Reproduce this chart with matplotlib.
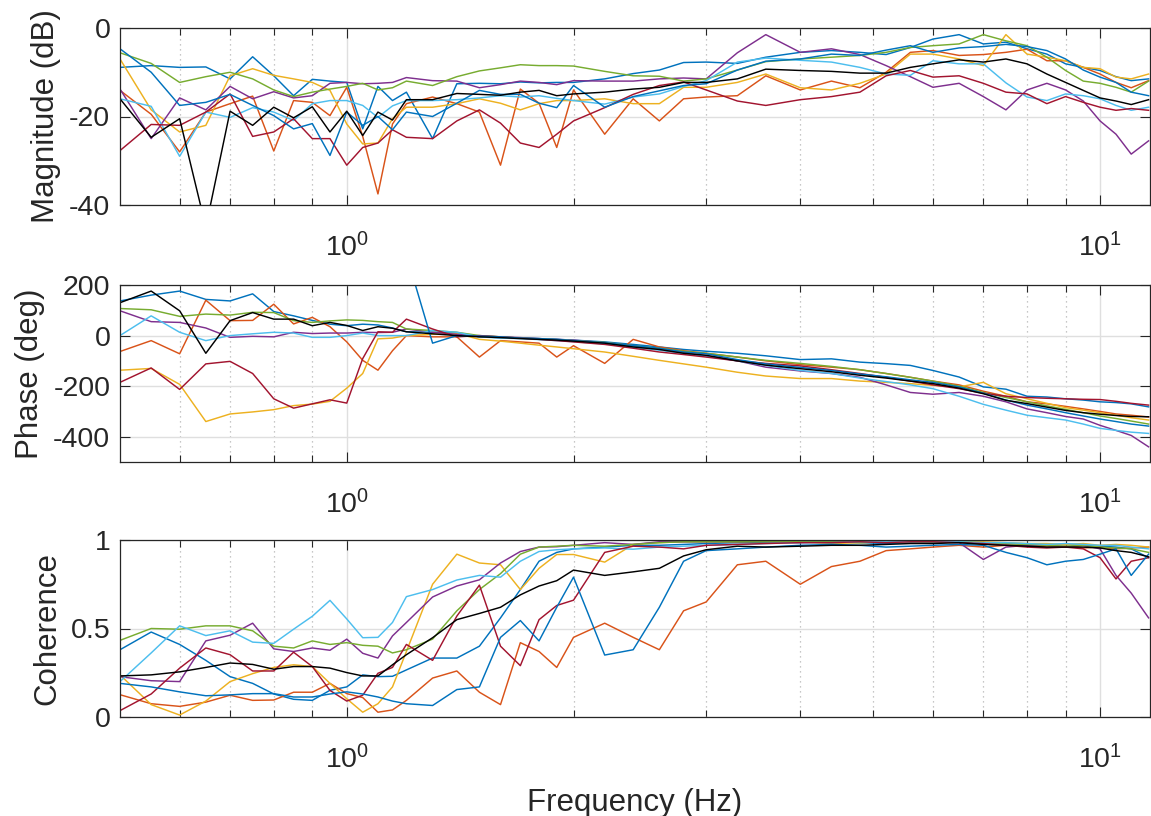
import matplotlib
matplotlib.use('Agg')
import matplotlib.pyplot as plt

plt.rcParams['font.family'] = ['Liberation Sans', 'DejaVu Sans']

# Frequency points (Hz) shared by every trace
freq = [0.5, 0.55, 0.6, 0.65, 0.7, 0.75, 0.8, 0.85, 0.9, 0.95, 1.0, 1.05, 1.1, 1.15, 1.2,
        1.3, 1.4, 1.5, 1.6, 1.7, 1.8, 1.9, 2.0, 2.2, 2.4, 2.6, 2.8, 3.0, 3.3, 3.6, 4.0,
        4.4, 4.8, 5.2, 5.6, 6.0, 6.5, 7.0, 7.5, 8.0, 8.5, 9.0, 9.5, 10.0, 10.5, 11.0, 11.6]

# Magnitude (dB)
mag_blue1 = [-8.9, -8.5, -8.9, -8.8, -11.5, -6.5, -10.8, -15.3, -11.6, -12, -12.3, -22.8, -13.2, -16.4, -14.5, -25, -12.6,
             -12.5, -12.6, -12.2, -12.4, -12.3, -12.3, -11.5, -10.3, -9.5, -7.8, -7.7, -8, -6.6,
             -5.5, -5.1, -5.5, -6, -4.4, -2.5, -1.5, -3.6, -3.2, -4.7, -5.9, -8.1, -8.9, -9.6, -11, -11.9, -11.5]
mag_orange = [-14.1, -19.5, -28, -19, -17.1, -15.4, -27.8, -16.4, -16.8, -19.8, -13.4, -24.5, -37.5, -21.7, -17.1, -15.6, -17.1,
              -19, -31, -13.8, -17, -27, -14, -24, -16, -21, -16, -15.6, -15.3, -10.8,
              -14, -12, -13.5, -10, -5.5, -5.1, -6.2, -6, -5.5, -4.8, -7.4, -7.4, -8.9, -10.4, -12.3, -13.5, -11.9]
mag_yellow = [-7, -18.5, -23.5, -22, -10.8, -9.2, -10.7, -11.5, -12.3, -14.1, -21.7, -26.2, -26, -20.5, -17.9, -17.9, -17.1,
              -16, -17, -18.5, -17.1, -16.4, -16.4, -16, -17.1, -17.1, -13.4, -13.4, -12.3, -10.4,
              -13.5, -14, -12.5, -10.4, -5.9, -5.9, -7, -8.5, -1.5, -5.9, -6.6, -7.4, -8.9, -9.2, -11.1, -11.5, -10.4]
mag_purple = [-13.8, -25, -15.8, -18.5, -13.2, -16, -14.4, -15.8, -15.3, -12.5, -12.3, -12.6, -12.5, -12.3, -11.2, -11.9, -12,
              -13.5, -12.8, -12, -12.3, -12.8, -11.9, -12, -12, -11.5, -11.3, -11.5, -5.6, -1.5,
              -5.5, -4.7, -6, -8.5, -11, -13.4, -12.5, -15.5, -18.5, -14, -12.5, -14, -16.5, -21, -24, -28.5, -25.5]
mag_green = [-5.6, -8, -12.3, -11, -10, -11.5, -14, -15.5, -14.5, -13.8, -13.2, -12.5, -14, -13.5, -12, -13, -11,
             -9.7, -9, -8.3, -8.5, -8.5, -8.6, -9.8, -10.8, -10.9, -12, -11.5, -9.5, -7.6,
             -7, -6.6, -6.2, -5.5, -4.4, -4, -3.6, -1.5, -2.9, -4, -6.6, -9.6, -12, -12.5, -13.4, -14.5, -12]
mag_lightblue = [-16, -17.7, -29, -19, -20.2, -18, -19, -20.9, -17.1, -16.4, -16.4, -17.5, -20.2, -17.6, -16.4, -16.4, -16.2,
                 -15.8, -15.3, -15.6, -15.3, -15.9, -16.4, -17.2, -15.6, -14.9, -13.2, -11.9, -7.7, -6.8,
                 -7.3, -7.7, -8.9, -10.4, -10.7, -7.4, -8.1, -8.1, -12.4, -15.6, -16.4, -14.9, -15.3, -16, -17.5, -18.6, -17.9]
mag_darkred = [-27.7, -21.8, -22, -19, -14.9, -24.5, -23.5, -20.5, -25, -25, -31, -27, -26, -23, -24.7, -25, -21,
               -18.5, -21.5, -26, -27, -24, -21, -18, -15, -13, -12.2, -14, -16.5, -17.5,
               -16.2, -15.5, -14.5, -10.8, -9.6, -11.1, -10.8, -12.5, -14.5, -14.9, -17.1, -15.5, -16.8, -17.9, -18.6, -18.2, -18.6]
mag_blue2 = [-4.7, -10, -17.5, -16.8, -15, -17.5, -19.8, -22.8, -21.6, -28.8, -19, -22, -20, -23, -19, -20, -17,
             -14.1, -15, -15, -17, -18, -13, -17.9, -15.5, -14.2, -13, -12.6, -9.5, -7.5,
             -7, -5.9, -6.2, -5, -4, -5.5, -4.5, -4.2, -3.7, -4.2, -5.1, -7, -9.5, -11.1, -12.3, -14.5, -15.3]
mag_mean = [-16, -24.7, -20.5, -45, -18.8, -22, -17.9, -20.3, -17.8, -23.5, -18.8, -24.3, -19, -20.8, -16.2, -16.2, -14.8,
            -15, -15.2, -14.5, -14.1, -15.3, -14.9, -14.5, -13.8, -13.4, -12.3, -12.3, -11.5, -9.3,
            -9.6, -9.8, -10.2, -10.2, -8.9, -8.1, -7.2, -7.7, -7.0, -8.1, -10.4, -12.3, -14.1, -15.8, -16.5, -17.3, -16.2]

# Phase (deg)
ph_blue1 = [137, 160, 176, 143, 137, 165, 95, 78, 60, 45, 39, 45, 42, 30, 15, 13, 10,
            -5, -8, -10, -12, -15, -18, -25, -35, -45, -55, -62, -70, -80, -95, -92, -105, -111, -118,
            -138, -164, -203, -212, -240, -243, -250, -255, -262, -265, -270, -282]
ph_orange = [-63, -20, -72, 140, 59, 60, 124, 46, 72, 35, -25, -98, -137, -60, 0, -5, -5,
             -85, -20, -25, -30, -85, -40, -110, -15, -45, -60, -70, -85, -100, -115, -125, -135, -150, -165,
             -180, -195, -220, -240, -262, -270, -280, -290, -300, -310, -315, -322]
ph_yellow = [-137, -130, -193, -340, -310, -302, -293, -277, -271, -260, -208, -150, -13, -10, 0, 5, 8,
             -15, -22, -30, -38, -45, -52, -65, -82, -98, -112, -125, -145, -160, -170, -170, -180, -185, -190,
             -197, -203, -185, -230, -250, -268, -285, -295, -305, -315, -325, -334]
ph_purple = [98, 55, 52, 30, -7, -3, -5, 13, 8, 10, 10, 13, 12, 13, 26, 13, 5,
             -3, -5, -8, -12, -15, -18, -28, -40, -55, -68, -80, -100, -125, -140, -150, -165, -195, -225,
             -232, -225, -240, -262, -290, -305, -320, -330, -355, -375, -395, -440]
ph_green = [107, 102, 76, 85, 81, 92, 91, 59, 52, 58, 62, 60, 55, 52, 26, 20, 13,
            0, -5, -10, -13, -16, -20, -27, -40, -50, -62, -70, -85, -98, -110, -122, -135, -150, -165,
            -180, -200, -225, -245, -262, -278, -292, -305, -318, -328, -338, -350]
ph_lightblue = [0, 78, 13, -20, 0, 7, 13, 10, -7, -7, 0, 10, 0, 0, 0, 20, 13,
                -5, -10, -12, -16, -20, -24, -33, -45, -58, -70, -82, -100, -118, -138, -150, -168, -182, -195,
                -210, -240, -272, -295, -315, -325, -334, -350, -367, -375, -382, -387]
ph_darkred = [-185, -128, -213, -112, -102, -150, -250, -287, -270, -254, -267, -91, 15, 13, 65, 26, -5,
              0, -5, -10, -15, -20, -25, -35, -50, -65, -75, -85, -100, -110, -120, -135, -150, -165, -180,
              -195, -210, -228, -240, -245, -248, -250, -252, -253, -260, -268, -275]
ph_blue2 = [400, 400, 400, 400, 400, 400, 400, 400, 400, 400, 400, 400, 400, 400, 320, -30, 0,
            -2, -5, -10, -12, -15, -20, -28, -40, -50, -65, -72, -95, -112, -126, -138, -152, -163, -175,
            -185, -203, -228, -255, -275, -290, -305, -318, -330, -340, -350, -358]
ph_mean = [130, 176, 98, -70, 59, 91, 65, 65, 39, 52, 40, 20, 35, 29, 15, 7, 0,
           -5, -8, -12, -15, -18, -22, -30, -45, -55, -70, -78, -100, -117, -131, -143, -157, -168, -180,
           -190, -208, -230, -256, -269, -283, -296, -305, -311, -316, -320, -321]

# Coherence
coh_blue1 = [0.38, 0.48, 0.41, 0.32, 0.228, 0.19, 0.13, 0.10, 0.094, 0.151, 0.17, 0.238, 0.228, 0.23, 0.266, 0.333, 0.333,
             0.40, 0.56, 0.72, 0.88, 0.93, 0.95,
             0.96, 0.97, 0.97, 0.975, 0.98, 0.985, 0.985, 0.99, 0.99, 0.985, 0.98, 0.985, 0.99, 0.99, 0.985, 0.98,
             0.975, 0.97, 0.975, 0.97, 0.965, 0.96, 0.95, 0.9]
coh_orange = [0.126, 0.075, 0.06, 0.084, 0.123, 0.094, 0.096, 0.14, 0.14, 0.19, 0.132, 0.11, 0.027, 0.04, 0.094, 0.22, 0.26,
              0.14, 0.07, 0.42, 0.37, 0.28, 0.45,
              0.53, 0.45, 0.38, 0.6, 0.65, 0.86, 0.88, 0.75, 0.85, 0.88, 0.94, 0.95, 0.96, 0.97, 0.96, 0.97,
              0.97, 0.96, 0.965, 0.955, 0.96, 0.95, 0.955, 0.96]
coh_yellow = [0.238, 0.07, 0.011, 0.09, 0.20, 0.245, 0.28, 0.295, 0.285, 0.19, 0.103, 0.027, 0.075, 0.17, 0.37, 0.75, 0.92,
              0.87, 0.86, 0.72, 0.84, 0.918, 0.918,
              0.875, 0.975, 0.985, 0.99, 0.99, 0.99, 0.995, 0.99, 0.98, 0.985, 0.99, 0.99, 0.985, 0.99, 0.99, 0.985,
              0.98, 0.98, 0.975, 0.98, 0.97, 0.975, 0.97, 0.96]
coh_purple = [0.228, 0.205, 0.20, 0.43, 0.462, 0.53, 0.385, 0.37, 0.39, 0.377, 0.44, 0.36, 0.333, 0.458, 0.534, 0.678, 0.74,
              0.775, 0.87, 0.935, 0.96, 0.962, 0.97,
              0.985, 0.975, 0.99, 0.99, 0.99, 0.99, 0.99, 0.985, 0.99, 0.99, 0.985, 0.99, 0.99, 0.985, 0.89, 0.96,
              0.97, 0.97, 0.96, 0.97, 0.95, 0.8, 0.7, 0.56]
coh_green = [0.433, 0.50, 0.496, 0.515, 0.515, 0.487, 0.40, 0.39, 0.43, 0.41, 0.42, 0.405, 0.40, 0.362, 0.38, 0.44, 0.60,
             0.72, 0.81, 0.92, 0.96, 0.965, 0.97,
             0.965, 0.975, 0.985, 0.99, 0.99, 0.99, 0.99, 0.99, 0.99, 0.985, 0.99, 0.99, 0.985, 0.99, 0.985, 0.98,
             0.975, 0.97, 0.965, 0.97, 0.96, 0.955, 0.95, 0.93]
coh_lightblue = [0.20, 0.362, 0.515, 0.46, 0.487, 0.423, 0.416, 0.496, 0.569, 0.659, 0.554, 0.448, 0.45, 0.534, 0.68, 0.72, 0.774,
                 0.80, 0.79, 0.88, 0.935, 0.945, 0.95,
                 0.955, 0.948, 0.96, 0.965, 0.97, 0.975, 0.98, 0.985, 0.985, 0.99, 0.99, 0.99, 0.99, 0.99, 0.985, 0.985,
                 0.98, 0.975, 0.98, 0.975, 0.97, 0.97, 0.96, 0.95]
coh_darkred = [0.036, 0.13, 0.276, 0.39, 0.352, 0.26, 0.26, 0.366, 0.285, 0.15, 0.09, 0.123, 0.247, 0.28, 0.41, 0.32, 0.57,
               0.745, 0.40, 0.29, 0.55, 0.63, 0.66,
               0.93, 0.965, 0.96, 0.95, 0.97, 0.975, 0.98, 0.985, 0.985, 0.99, 0.985, 0.99, 0.99, 0.985, 0.98, 0.97,
               0.96, 0.955, 0.96, 0.95, 0.9, 0.78, 0.88, 0.9]
coh_blue2 = [0.19, 0.17, 0.142, 0.12, 0.125, 0.132, 0.132, 0.113, 0.113, 0.13, 0.142, 0.13, 0.113, 0.09, 0.075, 0.065, 0.155,
             0.17, 0.45, 0.545, 0.43, 0.62, 0.79,
             0.35, 0.38, 0.62, 0.88, 0.94, 0.95, 0.96, 0.97, 0.975, 0.97, 0.96, 0.965, 0.97, 0.975, 0.97, 0.93,
             0.9, 0.86, 0.88, 0.89, 0.92, 0.95, 0.8, 0.92]
coh_mean = [0.232, 0.238, 0.255, 0.28, 0.305, 0.297, 0.27, 0.285, 0.285, 0.276, 0.251, 0.232, 0.232, 0.295, 0.352, 0.448, 0.55,
            0.585, 0.62, 0.69, 0.74, 0.77, 0.83,
            0.80, 0.82, 0.84, 0.91, 0.945, 0.965, 0.96, 0.965, 0.97, 0.97, 0.975, 0.98, 0.98, 0.985, 0.975, 0.97,
            0.965, 0.96, 0.96, 0.96, 0.955, 0.94, 0.93, 0.905]

# MATLAB default line colours, in plotting order
traces = [
    ('#0072BD', mag_blue1, ph_blue1, coh_blue1),
    ('#D95319', mag_orange, ph_orange, coh_orange),
    ('#EDB120', mag_yellow, ph_yellow, coh_yellow),
    ('#7E2F8E', mag_purple, ph_purple, coh_purple),
    ('#77AC30', mag_green, ph_green, coh_green),
    ('#4DBEEE', mag_lightblue, ph_lightblue, coh_lightblue),
    ('#A2142F', mag_darkred, ph_darkred, coh_darkred),
    ('#0072BD', mag_blue2, ph_blue2, coh_blue2),
    ('black', mag_mean, ph_mean, coh_mean),
]

axis_col = '#262626'

fig = plt.figure(figsize=(11.51, 8.16), dpi=100)
left = 120 / 1151
width = 1030 / 1151
height = 177 / 816
ax_mag = fig.add_axes([left, 611 / 816, width, height])
ax_ph = fig.add_axes([left, 354 / 816, width, height])
ax_coh = fig.add_axes([left, 99 / 816, width, height])


def style_axis(ax, ylim, yticks, ylabel):
    ax.set_xscale('log')
    ax.set_xlim(0.5, 11.65)
    ax.set_ylim(*ylim)
    ax.set_yticks(yticks)
    ax.set_yticklabels([f'{t:g}' for t in yticks])
    ax.set_xticks([1, 10])
    ax.set_xticklabels([r'$\mathdefault{10^{0}}$', r'$\mathdefault{10^{1}}$'])
    ax.set_xticks([0.6, 0.7, 0.8, 0.9, 2, 3, 4, 5, 6, 7, 8, 9], minor=True)
    ax.set_xticklabels([], minor=True)
    ax.set_ylabel(ylabel, fontsize=22.5, color=axis_col, labelpad=6)
    ax.grid(True, which='major', color='#dfdfdf', linewidth=1.0)
    ax.grid(True, which='minor', axis='x', color='#b5b5b5', linestyle=(0, (1, 3)), linewidth=0.9)
    ax.set_axisbelow(True)
    ax.tick_params(which='both', direction='in', top=True, right=True, colors=axis_col, labelsize=20.5)
    ax.tick_params(which='major', length=7, width=0.8)
    ax.tick_params(which='minor', length=5, width=0.8)
    ax.tick_params(axis='x', which='major', pad=20)
    ax.tick_params(axis='y', which='major', pad=7)
    for s in ax.spines.values():
        s.set_color(axis_col)
        s.set_linewidth(0.9)


# --- Plotting ---
for color, mag, ph, coh in traces:
    ax_mag.plot(freq, mag, color=color, linewidth=1.05)
    ax_ph.plot(freq, ph, color=color, linewidth=1.05)
    ax_coh.plot(freq, coh, color=color, linewidth=1.05)

style_axis(ax_mag, (-40, 0), [-40, -20, 0], 'Magnitude (dB)')
style_axis(ax_ph, (-500, 200), [-400, -200, 0, 200], 'Phase (deg)')
style_axis(ax_coh, (0, 1), [0, 0.5, 1], 'Coherence')
ax_coh.set_xlabel('Frequency (Hz)', fontsize=22.5, color=axis_col, labelpad=10)

fig.savefig('out.png', dpi=100)
